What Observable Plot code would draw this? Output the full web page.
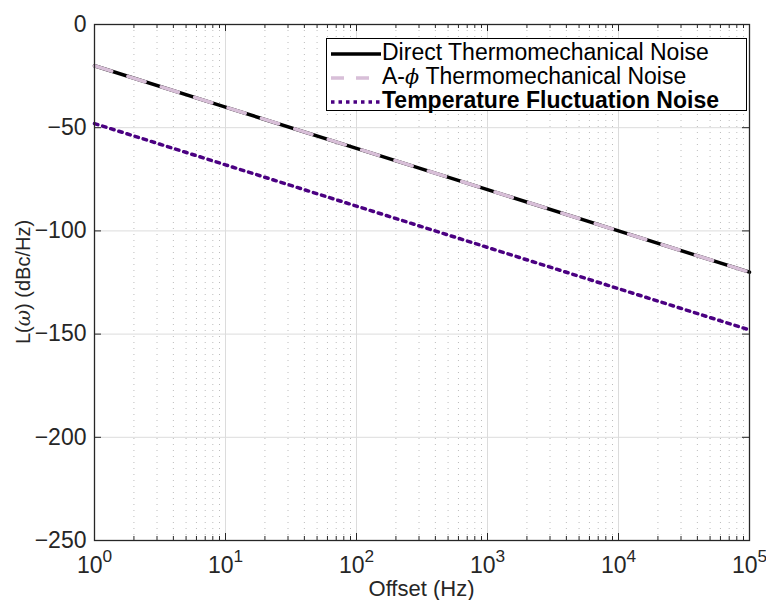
<!DOCTYPE html>
<html>
<head>
<meta charset="utf-8">
<script src="https://cdn.jsdelivr.net/npm/d3@7"></script>
<script src="https://cdn.jsdelivr.net/npm/@observablehq/plot@0.6"></script>
<style>
  body { margin: 0; background: #fff; }
  #wrap { position: relative; width: 766px; height: 600px; font-family: "Liberation Sans", Arial, sans-serif; }
  #legend { position: absolute; left: 326px; top: 38px; width: 419px; height: 71px; background: #fff; border: 1px solid #000; font-size: 23px; color: #000; }
  .row { position: absolute; left: 4px; height: 24px; line-height: 24px; white-space: nowrap; }
  .row svg { vertical-align: middle; margin-right: 1px; }
  .greek { font-family: "DejaVu Serif", serif; font-style: italic; font-size: 0.9em; }
</style>
</head>
<body>
<div id="wrap"></div>
<script>
// Data
const offsets = [1, 10, 100, 1000, 10000, 100000];
const directNoise = [-20, -40, -60, -80, -100, -120];
const aphiNoise = [-20, -40, -60, -80, -100, -120];
const tempNoise = [-48, -68, -88, -108, -128, -148];
const seriesNames = ["Direct Thermomechanical Noise", "A-\u03d5 Thermomechanical Noise", "Temperature Fluctuation Noise"];
const yTicks = [-250, -200, -150, -100, -50, 0];
const decades = [1, 10, 100, 1000, 10000, 100000];
const decadeExp = ["0", "1", "2", "3", "4", "5"];

const minorTicks = [];
for (let i = 0; i < decades.length - 1; i++) for (let m = 2; m <= 9; m++) minorTicks.push(decades[i] * m);

const rows = (vals, name) => offsets.map((x, i) => ({x, y: vals[i], name}));
const W = 766, H = 600, mL = 94, mR = 17, mT = 24, mB = 60;
const ph = H - mT - mB;
const axisColor = "#262626";
const dashA = "18,17", dotT = "3.5,5";

const chart = Plot.plot({
  width: W, height: H,
  marginLeft: mL, marginRight: mR, marginTop: mT, marginBottom: mB,
  style: {fontFamily: "'Liberation Sans', Arial, sans-serif", fontSize: "23px", color: "#262626", background: "#fff"},
  x: {type: "log", domain: [1, 1e5]},
  y: {domain: [-250, 0]},
  marks: [
    Plot.gridX(minorTicks, {stroke: "#bcbcbc", strokeOpacity: 1, strokeDasharray: "1,5"}),
    Plot.gridX(decades, {stroke: "#dcdcdc", strokeOpacity: 1}),
    Plot.gridY(yTicks, {stroke: "#dcdcdc", strokeOpacity: 1}),
    Plot.line(rows(directNoise, seriesNames[0]), {x: "x", y: "y", stroke: "#000", strokeWidth: 3.5}),
    Plot.line(rows(aphiNoise, seriesNames[1]), {x: "x", y: "y", stroke: "#d8bfd8", strokeWidth: 3.5, strokeDasharray: dashA}),
    Plot.line(rows(tempNoise, seriesNames[2]), {x: "x", y: "y", stroke: "#4b0082", strokeWidth: 3.5, strokeDasharray: dotT}),
    Plot.tickX(decades, {x: d => d, insetTop: ph - 7, stroke: axisColor}),
    Plot.tickX(decades, {x: d => d, insetBottom: ph - 7, stroke: axisColor}),
    Plot.tickX(minorTicks, {x: d => d, insetTop: ph - 4, stroke: axisColor}),
    Plot.tickX(minorTicks, {x: d => d, insetBottom: ph - 4, stroke: axisColor}),
    Plot.tickY(yTicks, {y: d => d, insetRight: W - mL - mR - 7, stroke: axisColor}),
    Plot.tickY(yTicks, {y: d => d, insetLeft: W - mL - mR - 7, stroke: axisColor}),
    Plot.axisX({ticks: decades, tickSize: 0, tickPadding: 16, tickFormat: d => "10", label: null}),
    Plot.axisY({ticks: yTicks, tickSize: 0, tickPadding: 8, label: null}),
    Plot.frame({stroke: axisColor, strokeWidth: 1.3})
  ]
});

const svg = d3.select(chart);
svg.selectAll('g[aria-label="x-axis tick label"] text').each(function(d, i) {
  const t = d3.select(this);
  t.text("10");
  t.append("tspan").attr("dy", "-0.6em").attr("font-size", "0.75em").text(decadeExp[i]);
});
svg.append("text")
  .attr("x", mL + (W - mL - mR) / 2).attr("y", 596)
  .attr("text-anchor", "middle").attr("font-size", 22).attr("fill", "#262626")
  .text("Offset (Hz)");
const yl = svg.append("text")
  .attr("transform", `translate(30,${mT + ph / 2}) rotate(-90)`)
  .attr("text-anchor", "middle").attr("font-size", 20).attr("fill", "#262626");
yl.append("tspan").text("L(");
yl.append("tspan").attr("font-style", "italic").attr("font-family", "'DejaVu Serif', serif").text("\u03c9");
yl.append("tspan").text(") (dBc/Hz)");

const wrap = document.getElementById("wrap");
wrap.appendChild(chart);

const legendStyles = [
  {stroke: "#000", dash: null, bold: false},
  {stroke: "#d8bfd8", dash: "13,12", bold: false},
  {stroke: "#4b0082", dash: "3.5,4", bold: true}
];
const legend = document.createElement("div");
legend.id = "legend";
seriesNames.forEach((name, i) => {
  const row = document.createElement("div");
  row.className = "row";
  row.style.top = (1 + i * 24) + "px";
  const s = d3.create("svg").attr("width", 50).attr("height", 10);
  s.append("line").attr("x1", 0).attr("x2", 50).attr("y1", 5).attr("y2", 5)
    .attr("stroke", legendStyles[i].stroke).attr("stroke-width", 3.5)
    .attr("stroke-dasharray", legendStyles[i].dash);
  row.appendChild(s.node());
  const span = document.createElement("span");
  const k = name.indexOf("\u03d5");
  if (k >= 0) {
    span.appendChild(document.createTextNode(name.slice(0, k)));
    const g = document.createElement("span");
    g.className = "greek";
    g.textContent = "\u03d5";
    span.appendChild(g);
    span.appendChild(document.createTextNode(name.slice(k + 1)));
  } else {
    span.textContent = name;
  }
  if (legendStyles[i].bold) span.style.fontWeight = "bold";
  row.appendChild(span);
  legend.appendChild(row);
});
wrap.appendChild(legend);
</script>
</body>
</html>
